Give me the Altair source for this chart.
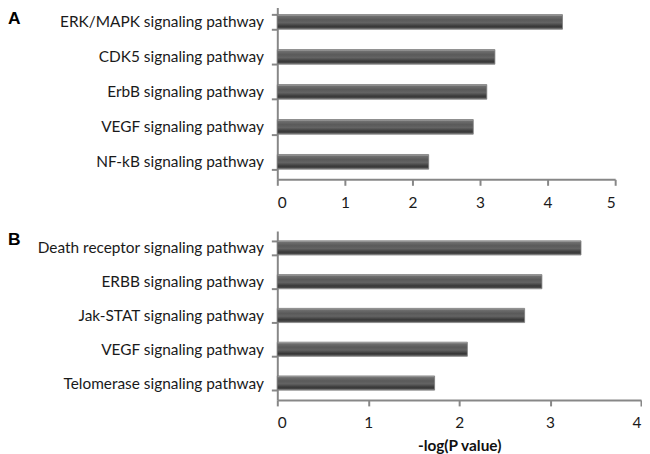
import altair as alt
import pandas as pd

# Panel A data
pathways_a = [
    "ERK/MAPK signaling pathway",
    "CDK5 signaling pathway",
    "ErbB signaling pathway",
    "VEGF signaling pathway",
    "NF-kB signaling pathway",
]
values_a = [4.22, 3.22, 3.10, 2.90, 2.24]
ticks_a = [0, 1, 2, 3, 4, 5]

# Panel B data
pathways_b = [
    "Death receptor signaling pathway",
    "ERBB signaling pathway",
    "Jak-STAT signaling pathway",
    "VEGF signaling pathway",
    "Telomerase signaling pathway",
]
values_b = [3.34, 2.91, 2.72, 2.09, 1.73]
ticks_b = [0, 1, 2, 3, 4]

AXIS_GRAY = "#878787"
FONT = "Lato"

bar_fill = alt.Gradient(
    gradient="linear",
    x1=0, x2=0, y1=0, y2=1,
    stops=[
        alt.GradientStop(offset=0.0, color="#b8b8b8"),
        alt.GradientStop(offset=0.12, color="#6e6e6e"),
        alt.GradientStop(offset=0.35, color="#5a5a5a"),
        alt.GradientStop(offset=0.55, color="#636363"),
        alt.GradientStop(offset=0.8, color="#383838"),
        alt.GradientStop(offset=0.92, color="#4a4a4a"),
        alt.GradientStop(offset=1.0, color="#a0a0a0"),
    ],
)


def panel(names, vals, ticks, width, height, letter, letter_y, xtitle):
    df = pd.DataFrame({"pathway": names, "value": vals})
    xkw = dict(
        scale=alt.Scale(domain=[0, ticks[-1]], nice=False, zero=True),
        axis=alt.Axis(
            values=ticks,
            format="d",
            labelPadding=10,
            titleFont=FONT,
            titleFontSize=15.5,
            titleFontWeight="bold",
            titleColor="#111111",
            titlePadding=7,
        ),
    )
    if xtitle:
        x = alt.X("value:Q", title=xtitle, **xkw)
    else:
        x = alt.X("value:Q", title=None, **xkw)
    bars = (
        alt.Chart(df)
        .mark_bar(fill=bar_fill, stroke="#7a7a7a", strokeWidth=0.8)
        .encode(
            x=x,
            y=alt.Y(
                "pathway:N",
                sort=names,
                title=None,
                scale=alt.Scale(paddingInner=0.58, paddingOuter=0.29),
                axis=alt.Axis(tickBand="extent", labelPadding=8, labelLimit=400),
            ),
        )
    )
    lab = (
        alt.Chart(pd.DataFrame({"t": [letter]}))
        .mark_text(
            align="left",
            baseline="alphabetic",
            fontSize=17.5,
            fontWeight="bold",
            font="Liberation Sans",
            color="#000000",
        )
        .encode(text="t:N", x=alt.value(-271), y=alt.value(letter_y))
    )
    return alt.layer(bars, lab).properties(width=width, height=height)


panel_a = panel(pathways_a, values_a, ticks_a, 340, 176, "A", 20, None)
panel_b = panel(pathways_b, values_b, ticks_b, 366, 170, "B", 14, "-log(P value)")

chart = (
    alt.vconcat(panel_a, panel_b, spacing=13)
    .properties(padding={"top": -12, "left": 0, "right": 0, "bottom": 0})
    .configure_view(stroke=None)
    .configure_axis(
        grid=False,
        domainColor=AXIS_GRAY,
        domainWidth=2,
        tickColor=AXIS_GRAY,
        tickWidth=2,
        tickSize=6,
        labelFont=FONT,
        labelFontSize=15.5,
        labelColor="#1a1a1a",
    )
)

chart.save("out.html", embed_options={"renderer": "svg", "actions": False})
